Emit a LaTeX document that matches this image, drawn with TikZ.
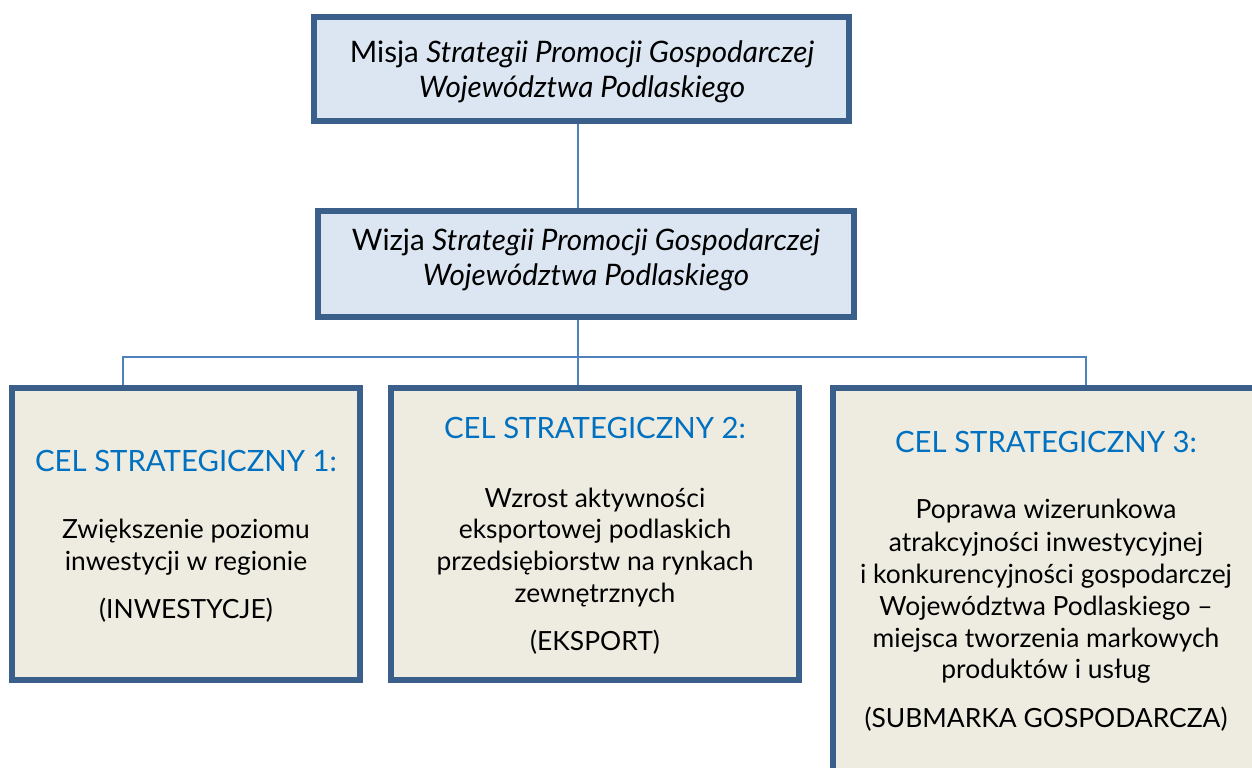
\documentclass[tikz,border=0pt]{standalone}
\usepackage{fontspec}
\setmainfont{Lato}
\definecolor{bordercol}{HTML}{3A5F8B}
\definecolor{topfill}{HTML}{DCE6F2}
\definecolor{goalfill}{HTML}{EEECE1}
\definecolor{conncol}{HTML}{4F81BD}
\definecolor{celblue}{HTML}{0070C0}
\tikzset{
  boxbase/.style={draw=bordercol, line width=4.5pt, rectangle, inner sep=0pt},
  topbox/.style={boxbase, fill=topfill},
  goalbox/.style={boxbase, fill=goalfill},
  conn/.style={draw=conncol, line width=1.3pt},
  ttl/.style={anchor=base, inner sep=0pt, font=\fontsize{22.2}{26}\selectfont},
  cel/.style={anchor=base, inner sep=0pt, text=celblue, font=\fontsize{22}{26}\selectfont},
  body/.style={anchor=base, inner sep=0pt, font=\fontsize{19.8}{24}\selectfont},
}
\begin{document}
\begin{tikzpicture}[x=0.75pt, y=-0.75pt]
\useasboundingbox (0,0) rectangle (1252,767);
\fill[white] (0,0) rectangle (1252,767);
\clip (0,0) rectangle (1252,767);
% boxes
\node[topbox, minimum width=401.25pt, minimum height=78pt] (misja) at (581.5,69) {};
\node[topbox, minimum width=402pt, minimum height=79.5pt] (wizja) at (586,264) {};
\node[goalbox, minimum width=261pt, minimum height=219pt] (cel1) at (186,534) {};
\node[goalbox, minimum width=306pt, minimum height=219pt] (cel2) at (595,534) {};
\node[goalbox, minimum width=319.5pt, minimum height=291.75pt] (cel3) at (1046,582.5) {};
% connectors
\coordinate (bus) at (578,357);
\coordinate (busL) at (123,357);
\coordinate (busR) at (1086,357);
\draw[conn] (misja.south -| bus) -- (wizja.north -| bus);
\draw[conn] (wizja.south -| bus) -- (cel2.north -| bus);
\draw[conn] (cel1.north -| busL) -- (busL) -- (busR) -- (cel3.north -| busR);
% texts top
\node[ttl] (m1) at (582,63) {Misja \textit{Strategii Promocji Gospodarczej}};
\node[ttl] (m2) at (582,98) {\textit{Województwa Podlaskiego}};
\node[ttl] (w1) at (586,250) {Wizja \textit{Strategii Promocji Gospodarczej}};
\node[ttl] (w2) at (586,285) {\textit{Województwa Podlaskiego}};
% goal 1
\node[cel] (c1h) at (186,471) {CEL STRATEGICZNY 1:};
\node[body] (c1a) at (186,538) {Zwiększenie poziomu};
\node[body] (c1b) at (186,570) {inwestycji w regionie};
\node[body] (c1c) at (186,618) {(INWESTYCJE)};
% goal 2
\node[cel] (c2h) at (595,438) {CEL STRATEGICZNY 2:};
\node[body] (c2a) at (595,507) {Wzrost aktywności};
\node[body] (c2b) at (595,538) {eksportowej podlaskich};
\node[body] (c2c) at (595,570) {przedsiębiorstw na rynkach};
\node[body] (c2d) at (595,602) {zewnętrznych};
\node[body] (c2e) at (595,650) {(EKSPORT)};
% goal 3
\node[cel] (c3h) at (1046,452) {CEL STRATEGICZNY 3:};
\node[body] (c3a) at (1046,518) {Poprawa wizerunkowa};
\node[body] (c3b) at (1046,551) {atrakcyjności inwestycyjnej};
\node[body] (c3c) at (1046,583) {i konkurencyjności gospodarczej};
\node[body] (c3d) at (1046,615) {Województwa Podlaskiego –};
\node[body] (c3e) at (1046,647) {miejsca tworzenia markowych};
\node[body] (c3f) at (1046,678) {produktów i usług};
\node[body] (c3g) at (1046,727) {(SUBMARKA GOSPODARCZA)};
\end{tikzpicture}
\end{document}
